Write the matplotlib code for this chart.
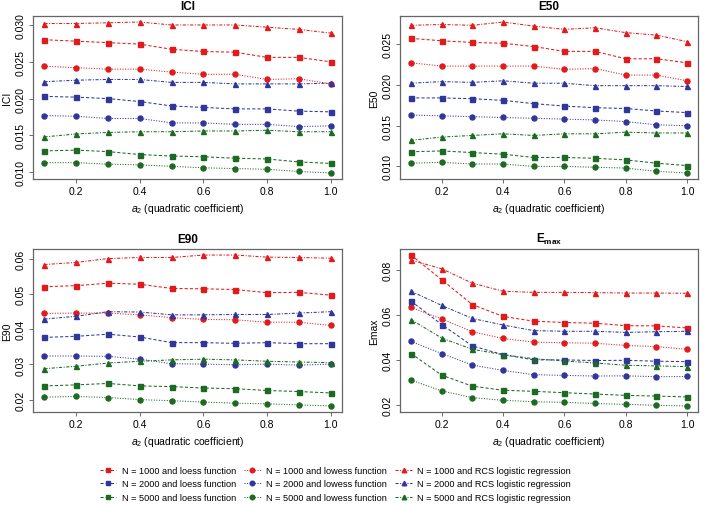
import matplotlib
matplotlib.use('Agg')
import matplotlib.pyplot as plt
from matplotlib.lines import Line2D

plt.rcParams['font.family'] = ['Liberation Sans', 'DejaVu Sans']
plt.rcParams['mathtext.fontset'] = 'custom'
plt.rcParams['mathtext.rm'] = 'Liberation Sans'
plt.rcParams['mathtext.it'] = 'Liberation Sans:italic'
plt.rcParams['mathtext.bf'] = 'Liberation Sans:bold'

a2 = [0.1, 0.2, 0.3, 0.4, 0.5, 0.6, 0.7, 0.8, 0.9, 1.0]
sizes = ['1000', '2000', '5000']
methods = ['loess', 'lowess', 'rcs']

# ICI
ici = {
    ('1000', 'rcs'):    [0.0302, 0.0302, 0.0303, 0.0304, 0.0300, 0.0300, 0.0300, 0.0297, 0.0294, 0.0289],
    ('1000', 'loess'):  [0.0280, 0.0278, 0.0276, 0.0274, 0.0267, 0.0264, 0.0263, 0.0256, 0.0256, 0.0250],
    ('1000', 'lowess'): [0.0244, 0.0242, 0.0240, 0.0240, 0.0236, 0.0233, 0.0233, 0.0226, 0.0227, 0.0220],
    ('2000', 'rcs'):    [0.0223, 0.0225, 0.0226, 0.0226, 0.0222, 0.0222, 0.0220, 0.0220, 0.0220, 0.0221],
    ('2000', 'loess'):  [0.0203, 0.0202, 0.0200, 0.0196, 0.0190, 0.0188, 0.0186, 0.0186, 0.0183, 0.0182],
    ('2000', 'lowess'): [0.0177, 0.0176, 0.0173, 0.0173, 0.0167, 0.0167, 0.0165, 0.0165, 0.0162, 0.0163],
    ('5000', 'rcs'):    [0.0148, 0.0152, 0.0154, 0.0155, 0.0155, 0.0156, 0.0156, 0.0157, 0.0155, 0.0155],
    ('5000', 'loess'):  [0.0129, 0.0130, 0.0128, 0.0124, 0.0122, 0.0121, 0.0119, 0.0118, 0.0114, 0.0112],
    ('5000', 'lowess'): [0.0113, 0.0113, 0.0111, 0.0110, 0.0108, 0.0106, 0.0105, 0.0104, 0.0101, 0.0099],
}

# E50
e50 = {
    ('1000', 'rcs'):    [0.0273, 0.0274, 0.0273, 0.0277, 0.0272, 0.0268, 0.0270, 0.0264, 0.0261, 0.0253],
    ('1000', 'loess'):  [0.0257, 0.0254, 0.0252, 0.0251, 0.0247, 0.0241, 0.0241, 0.0232, 0.0232, 0.0227],
    ('1000', 'lowess'): [0.0227, 0.0223, 0.0223, 0.0223, 0.0223, 0.0219, 0.0220, 0.0212, 0.0212, 0.0205],
    ('2000', 'rcs'):    [0.0202, 0.0204, 0.0203, 0.0205, 0.0202, 0.0202, 0.0199, 0.0199, 0.0199, 0.0198],
    ('2000', 'loess'):  [0.0184, 0.0184, 0.0183, 0.0181, 0.0177, 0.0174, 0.0172, 0.0171, 0.0168, 0.0166],
    ('2000', 'lowess'): [0.0163, 0.0162, 0.0161, 0.0160, 0.0159, 0.0158, 0.0157, 0.0155, 0.0151, 0.0150],
    ('5000', 'rcs'):    [0.0132, 0.0136, 0.0138, 0.0140, 0.0138, 0.0140, 0.0140, 0.0142, 0.0141, 0.0141],
    ('5000', 'loess'):  [0.0118, 0.0119, 0.0117, 0.0115, 0.0111, 0.0111, 0.0110, 0.0108, 0.0104, 0.0101],
    ('5000', 'lowess'): [0.0104, 0.0105, 0.0103, 0.0103, 0.0100, 0.0100, 0.0099, 0.0098, 0.0094, 0.0092],
}

# E90
e90 = {
    ('1000', 'rcs'):    [0.0584, 0.0590, 0.0601, 0.0604, 0.0604, 0.0611, 0.0611, 0.0605, 0.0604, 0.0602],
    ('1000', 'loess'):  [0.0521, 0.0524, 0.0531, 0.0528, 0.0516, 0.0515, 0.0513, 0.0504, 0.0505, 0.0497],
    ('1000', 'lowess'): [0.0445, 0.0446, 0.0446, 0.0441, 0.0433, 0.0428, 0.0427, 0.0420, 0.0420, 0.0411],
    ('2000', 'rcs'):    [0.0429, 0.0437, 0.0450, 0.0449, 0.0441, 0.0441, 0.0442, 0.0442, 0.0446, 0.0450],
    ('2000', 'loess'):  [0.0377, 0.0380, 0.0386, 0.0378, 0.0362, 0.0362, 0.0360, 0.0362, 0.0359, 0.0359],
    ('2000', 'lowess'): [0.0324, 0.0324, 0.0323, 0.0315, 0.0302, 0.0301, 0.0299, 0.0301, 0.0298, 0.0301],
    ('5000', 'rcs'):    [0.0288, 0.0295, 0.0304, 0.0309, 0.0313, 0.0315, 0.0313, 0.0309, 0.0307, 0.0305],
    ('5000', 'loess'):  [0.0239, 0.0242, 0.0246, 0.0239, 0.0237, 0.0233, 0.0231, 0.0226, 0.0223, 0.0219],
    ('5000', 'lowess'): [0.0207, 0.0209, 0.0206, 0.0200, 0.0197, 0.0193, 0.0190, 0.0188, 0.0185, 0.0182],
}

# Emax
emax = {
    ('1000', 'rcs'):    [0.0845, 0.0806, 0.0742, 0.0706, 0.0701, 0.0701, 0.0700, 0.0698, 0.0698, 0.0697],
    ('1000', 'loess'):  [0.0867, 0.0757, 0.0647, 0.0594, 0.0573, 0.0567, 0.0564, 0.0553, 0.0552, 0.0543],
    ('1000', 'lowess'): [0.0634, 0.0583, 0.0526, 0.0496, 0.0480, 0.0477, 0.0475, 0.0465, 0.0460, 0.0448],
    ('2000', 'rcs'):    [0.0706, 0.0643, 0.0585, 0.0556, 0.0531, 0.0528, 0.0528, 0.0523, 0.0526, 0.0528],
    ('2000', 'loess'):  [0.0662, 0.0558, 0.0463, 0.0424, 0.0401, 0.0401, 0.0398, 0.0399, 0.0395, 0.0393],
    ('2000', 'lowess'): [0.0483, 0.0429, 0.0378, 0.0354, 0.0335, 0.0332, 0.0329, 0.0330, 0.0326, 0.0327],
    ('5000', 'rcs'):    [0.0580, 0.0498, 0.0448, 0.0424, 0.0406, 0.0396, 0.0387, 0.0377, 0.0374, 0.0371],
    ('5000', 'loess'):  [0.0429, 0.0333, 0.0284, 0.0266, 0.0261, 0.0255, 0.0249, 0.0243, 0.0240, 0.0236],
    ('5000', 'lowess'): [0.0311, 0.0263, 0.0233, 0.0221, 0.0215, 0.0212, 0.0207, 0.0203, 0.0199, 0.0196],
}

colors = {'1000': '#E31A1C', '2000': '#30379A', '5000': '#1D6A22'}
markers = {'loess': 's', 'lowess': 'o', 'rcs': '^'}
styles = {'loess': (0, (3, 2)), 'lowess': (0, (1, 1.5)), 'rcs': (0, (3, 1.5, 1, 1.5))}
method_names = {'loess': 'loess function', 'lowess': 'lowess function', 'rcs': 'RCS logistic regression'}

panels = [
    (ici, 'ICI', 'ICI', [0.010, 0.015, 0.020, 0.025, 0.030], '%.3f', [33, 17, 342, 180]),
    (e50, 'E50', 'E50', [0.010, 0.015, 0.020, 0.025], '%.3f', [400, 17, 698, 180]),
    (e90, 'E90', 'E90', [0.02, 0.03, 0.04, 0.05, 0.06], '%.2f', [33, 250, 342, 413]),
    (emax, r'$\mathbf{E_{max}}$', 'Emax', [0.02, 0.04, 0.06, 0.08], '%.2f', [400, 250, 698, 413]),
]

W, H = 709, 506
fig = plt.figure(figsize=(W / 100, H / 100), dpi=100)

for data, title, ylab, yticks, fmt, box in panels:
    x0, y0, x1, y1 = box
    ax = fig.add_axes([x0 / W, 1 - y1 / H, (x1 - x0) / W, (y1 - y0) / H])
    for n in sizes:
        for m in methods:
            ax.plot(a2, data[(n, m)], color=colors[n], marker=markers[m],
                    linestyle=styles[m], linewidth=0.75, markersize=3.6)
    ax.margins(x=0.04, y=0.04)
    ax.set_xticks([0.2, 0.4, 0.6, 0.8, 1.0])
    ax.set_xticklabels(['0.2', '0.4', '0.6', '0.8', '1.0'])
    ax.set_yticks(yticks)
    ax.set_yticklabels([fmt % v for v in yticks], rotation=90, va='center')
    ax.tick_params(labelsize=7.5, color='#555555', length=3, width=0.6, pad=2)
    for s in ax.spines.values():
        s.set_color('#666666')
        s.set_linewidth(0.9)
    ax.set_title(title, fontsize=8.5, fontweight='bold', pad=5)
    ax.set_xlabel(r'$\it{a}_2$ (quadratic coefficient)', fontsize=7.5, labelpad=4)
    ax.set_ylabel(ylab, fontsize=7.5, labelpad=3)

handles = []
labels = []
for m in methods:
    for n in sizes:
        handles.append(Line2D([0], [0], color=colors[n], marker=markers[m],
                              linestyle=styles[m], linewidth=0.75, markersize=3.3))
        labels.append('N = %s and %s' % (n, method_names[m]))

fig.legend(handles, labels, ncol=3, loc='center', bbox_to_anchor=(0.473, 1 - 485 / H),
           frameon=False, fontsize=6.6, handlelength=1.8, columnspacing=0.9,
           labelspacing=0.5, handletextpad=0.6)

fig.savefig('out.png', dpi=100)
